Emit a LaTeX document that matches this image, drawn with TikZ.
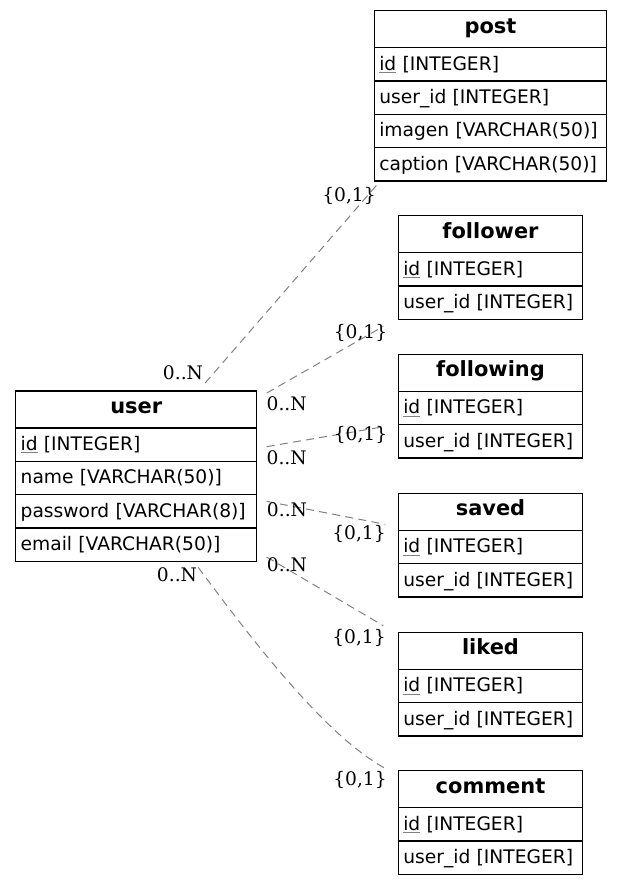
\documentclass[tikz,border=0pt]{standalone}
\usepackage{fontspec}
\setmainfont{DejaVu Sans}
\newfontfamily\cardfont{DejaVu Serif}
\usetikzlibrary{positioning,calc}
\newcommand\pkey[1]{{\color{gray}\underline{\textcolor{black}{#1}}}}

\begin{document}
\begin{tikzpicture}[x=0.75pt, y=-0.75pt,
    hd/.style={draw=black, line width=1pt, outer sep=0pt, inner sep=0pt, minimum width=#1,
      minimum height=27.75pt, text height=9pt, text depth=3pt,
      font=\fontsize{15.7}{18}\selectfont\bfseries, anchor=north west},
    row/.style={draw=black, line width=1pt, outer sep=0pt, inner xsep=3.75pt, inner ysep=0pt,
      text width=#1, minimum height=25pt, text height=10.6pt, text depth=1.85pt,
      align=left, font=\fontsize{14}{16}\selectfont},
    rel/.style={gray, line width=0.75pt, dash pattern=on 6pt off 4pt},
    card/.style={inner sep=0pt, font=\cardfont\fontsize{14}{16}\selectfont}]
      \useasboundingbox (0,0) rectangle (623,885);

      \node[hd=174.3pt] at (374.3,10.7) (post_hd) {post};
      \node[row=166.8pt, below=0pt of post_hd] (post_id) {\pkey{id} [INTEGER]};
      \node[row=166.8pt, below=0pt of post_id] (post_uid) {user\_id [INTEGER]};
      \node[row=166.8pt, below=0pt of post_uid] (post_img) {imagen [VARCHAR(50)]};
      \node[row=166.8pt, below=0pt of post_img] (post_cap) {caption [VARCHAR(50)]};

      \node[hd=138.3pt] at (398.3,215.7) (fol_hd) {follower};
      \node[row=130.8pt, below=0pt of fol_hd] (fol_id) {\pkey{id} [INTEGER]};
      \node[row=130.8pt, below=0pt of fol_id] (fol_uid) {user\_id [INTEGER]};

      \node[hd=138.3pt] at (398.3,354.3) (fwg_hd) {following};
      \node[row=130.8pt, below=0pt of fwg_hd] (fwg_id) {\pkey{id} [INTEGER]};
      \node[row=130.8pt, below=0pt of fwg_id] (fwg_uid) {user\_id [INTEGER]};

      \node[hd=138.3pt] at (398.3,493.3) (sav_hd) {saved};
      \node[row=130.8pt, below=0pt of sav_hd] (sav_id) {\pkey{id} [INTEGER]};
      \node[row=130.8pt, below=0pt of sav_id] (sav_uid) {user\_id [INTEGER]};

      \node[hd=138.3pt] at (398.3,632.3) (lik_hd) {liked};
      \node[row=130.8pt, below=0pt of lik_hd] (lik_id) {\pkey{id} [INTEGER]};
      \node[row=130.8pt, below=0pt of lik_id] (lik_uid) {user\_id [INTEGER]};

      \node[hd=138.3pt] at (398.3,770.7) (com_hd) {comment};
      \node[row=130.8pt, below=0pt of com_hd] (com_id) {\pkey{id} [INTEGER]};
      \node[row=130.8pt, below=0pt of com_id] (com_uid) {user\_id [INTEGER]};

      \node[hd=180.75pt] at (15.7,391) (user_hd) {user};
      \node[row=173.25pt, below=0pt of user_hd] (user_id) {\pkey{id} [INTEGER]};
      \node[row=173.25pt, below=0pt of user_id] (user_name) {name [VARCHAR(50)]};
      \node[row=173.25pt, below=0pt of user_name] (user_pw) {password [VARCHAR(8)]};
      \node[row=173.25pt, below=0pt of user_pw] (user_mail) {email [VARCHAR(50)]};

      % --------------------------------------------------------------------------
      \draw[rel] ($(user_hd.north)+(69,-8)$) -- ($(post_cap.south west)+(2.4,4)$);
      \draw[rel] ($(user_hd.north east)+(10,2)$) -- ($(fol_uid.south west)+(-15,7)$);
      \draw[rel] ($(user_id.east)+(10,2)$) -- ($(fwg_id.south west)+(-14,2)$);
      \draw[rel] ($(user_pw.north east)+(10,6.7)$) -- ($(sav_hd.south west)+(-13,-6)$);
      \draw[rel] ($(user_mail.south east)+(10,-4.3)$) -- ($(lik_hd.north west)+(-15,-6.6)$);
      \draw[rel] ($(user_mail.south)+(62,6)$) .. controls +(61.5,83) and +(-58.3,-30) .. ($(com_hd.north west)+(-10,-0.7)$);

      \node[card] at (183,373) (N_post) {0..N};
      \node[card] at (349,196) (one_post) {\{0,1\}};
      \node[card] at (286.7,404) (N_fol) {0..N};
      \node[card] at (360.5,332.7) (one_fol) {\{0,1\}};
      \node[card] at (286.7,458) (N_fwg) {0..N};
      \node[card] at (360.5,435) (one_fwg) {\{0,1\}};
      \node[card] at (287,510) (N_sav) {0..N};
      \node[card] at (359,534) (one_sav) {\{0,1\}};
      \node[card] at (287,565) (N_lik) {0..N};
      \node[card] at (359,638) (one_lik) {\{0,1\}};
      \node[card] at (177,575) (N_com) {0..N};
      \node[card] at (360,780) (one_com) {\{0,1\}};
    \end{tikzpicture}
\end{document}
